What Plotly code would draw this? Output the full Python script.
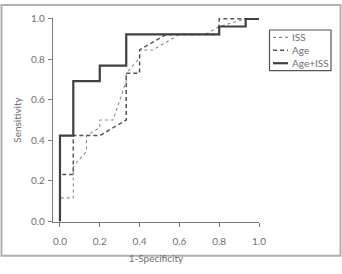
import plotly.graph_objects as go

# ROC data (1-Specificity, Sensitivity)
iss_x = [0, 0, 0.067, 0.067, 0.133, 0.133, 0.2, 0.2, 0.267, 0.333, 0.333, 0.4, 0.4, 0.467, 0.6, 0.733, 0.8, 0.933, 1.0]
iss_y = [0, 0.115, 0.115, 0.269, 0.346, 0.423, 0.462, 0.5, 0.5, 0.692, 0.731, 0.808, 0.846, 0.846, 0.923, 0.923, 0.962, 1.0, 1.0]

age_x = [0, 0, 0.067, 0.067, 0.2, 0.267, 0.333, 0.333, 0.4, 0.4, 0.533, 0.8, 0.8, 1.0]
age_y = [0, 0.231, 0.231, 0.423, 0.423, 0.462, 0.5, 0.731, 0.731, 0.846, 0.923, 0.923, 1.0, 1.0]

comb_x = [0, 0, 0.067, 0.067, 0.2, 0.2, 0.333, 0.333, 0.8, 0.8, 0.933, 0.933, 1.0]
comb_y = [0, 0.423, 0.423, 0.692, 0.692, 0.769, 0.769, 0.923, 0.923, 0.962, 0.962, 1.0, 1.0]

series_names = ["ISS", "Age", "Age+ISS"]
tick_vals = [0.0, 0.2, 0.4, 0.6, 0.8, 1.0]
tick_text = ["0.0", "0.2", "0.4", "0.6", "0.8", "1.0"]

W, H = 342, 274
ML, MR, MT, MB = 53, 83, 15, 38
PW, PH = W - ML - MR, H - MT - MB

def px_x(px):
    return (px - ML) / PW

def px_y(py):
    return (H - MB - py) / PH

FONT = "Lato"
GRAY = "#707070"

styles = [
    dict(color="#8c8c8c", width=1.1, dash="dot"),
    dict(color="#555555", width=1.5, dash="4px,3px"),
    dict(color="#404040", width=2.2, dash="solid"),
]

fig = go.Figure()
for xs, ys, name, st in zip([iss_x, age_x, comb_x], [iss_y, age_y, comb_y], series_names, styles):
    fig.add_trace(go.Scatter(x=xs, y=ys, mode="lines", name=name, line=st,
                             showlegend=False, cliponaxis=False))

axis_common = dict(
    showgrid=False, zeroline=False, showline=True, linecolor="#7a7a7a", linewidth=1.3,
    ticks="outside", ticklen=4, tickwidth=1.2, tickcolor="#7a7a7a",
    tickvals=tick_vals, ticktext=tick_text,
    tickfont=dict(family=FONT, size=10, color=GRAY),
)

fig.update_layout(
    width=W, height=H,
    margin=dict(l=ML, r=MR, t=MT, b=MB, pad=0),
    paper_bgcolor="white", plot_bgcolor="white",
    showlegend=False,
    xaxis=dict(range=[-0.035, 1.0], **axis_common, ticklabelstandoff=6,
               title=dict(text="1-Specificity", font=dict(family=FONT, size=10, color=GRAY), standoff=8)),
    yaxis=dict(range=[-0.004, 1.004], **axis_common, ticklabelstandoff=1,
               title=dict(text="Sensitivity", font=dict(family=FONT, size=10, color=GRAY), standoff=7)),
)

# outer frame
fig.add_shape(type="rect", xref="paper", yref="paper",
              x0=px_x(1.5), x1=px_x(340.5), y0=px_y(272.5), y1=px_y(1.0),
              line=dict(color="#b0b0b0", width=2), layer="below")

# legend box
lx0, lx1, ly0, ly1 = 269.5, 331, 28, 72
fig.add_shape(type="rect", xref="paper", yref="paper",
              x0=px_x(lx0), x1=px_x(lx1), y0=px_y(ly1), y1=px_y(ly0),
              line=dict(color="#555555", width=1.2), fillcolor="white")
row_y = [36, 50, 64]
for name, st, ry in zip(series_names, styles, row_y):
    fig.add_shape(type="line", xref="paper", yref="paper",
                  x0=px_x(273), x1=px_x(288), y0=px_y(ry), y1=px_y(ry),
                  line=st)
    fig.add_annotation(x=px_x(290), y=px_y(ry), xref="paper", yref="paper",
                       text=name, showarrow=False, xanchor="left", yanchor="middle",
                       font=dict(family=FONT, size=10, color=GRAY))

fig.write_html("out.html")
